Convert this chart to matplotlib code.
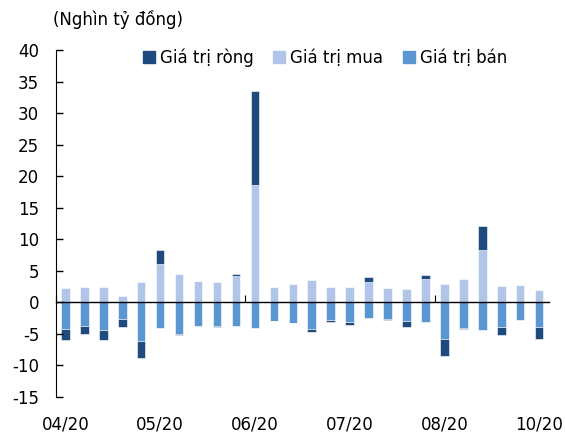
import numpy as np
import matplotlib.pyplot as plt
from matplotlib.patches import Patch

plt.rcParams['font.family'] = ['DejaVu Sans']
plt.rcParams['axes.unicode_minus'] = False

# weekly values, nghin ty dong
buy = [2.33, 2.43, 2.49, 1.06, 3.28, 6.14, 4.55, 3.33, 3.23, 4.13, 18.68, 2.43, 2.96,
       3.54, 2.38, 2.49, 3.23, 2.22, 2.06, 3.65, 2.91, 3.76, 8.25, 2.65, 2.70, 1.96]
sell = [-4.29, -3.81, -4.34, -2.59, -6.19, -4.13, -5.03, -3.70, -3.76, -3.76, -4.02, -2.91, -3.28,
        -4.29, -2.86, -3.17, -2.54, -2.65, -3.02, -3.07, -5.87, -4.07, -4.39, -3.92, -2.75, -3.92]
net = [-1.75, -1.27, -1.64, -1.32, -2.70, 2.17, -0.10, 0.0, -0.20, 0.42, 14.76, -0.10, -0.05,
       -0.48, -0.32, -0.48, 0.74, -0.10, -0.90, 0.63, -2.70, -0.10, 3.86, -1.27, 0.0, -1.90]
tick_labels = ['04/20', '05/20', '06/20', '07/20', '08/20', '10/20']

c_net = '#1F4A7E'
c_buy = '#B0C5E7'
c_sell = '#5A97D2'

buy = np.array(buy)
sell = np.array(sell)
net = np.array(net)
x = np.arange(len(buy))
w = 0.45

fig = plt.figure(figsize=(5.65, 4.32), dpi=100)
ax = fig.add_axes([0.099, 0.081, 0.872, 0.803])

ax.bar(x, buy, w, color=c_buy, edgecolor='white', linewidth=0.4)
ax.bar(x, sell, w, color=c_sell, edgecolor='white', linewidth=0.4)
net_base = np.where(net >= 0, buy, sell)
ax.bar(x, net, w, bottom=net_base, color=c_net, edgecolor='white', linewidth=0.4)

ax.set_xlim(-0.5, 25.5)
ax.set_ylim(-15, 40)
ax.set_yticks(np.arange(-15, 41, 5))
ax.tick_params(axis='y', direction='in', length=5, labelsize=12, pad=12, width=1)

ax.spines['top'].set_visible(False)
ax.spines['right'].set_visible(False)
ax.spines['bottom'].set_position(('data', 0))
ax.spines['bottom'].set_linewidth(1)
ax.set_xticks([-0.5, 9.5, 19.5])
ax.set_xticklabels([])
ax.tick_params(axis='x', direction='in', length=5, width=0.8)

sec = ax.secondary_xaxis(0.0)
sec.set_xticks(np.arange(0, 26, 5))
sec.set_xticklabels(tick_labels)
sec.tick_params(length=0, labelsize=12, pad=13)
sec.spines['bottom'].set_visible(False)

fig.text(0.094, 0.954, '(Nghìn tỷ đồng)', fontsize=12, va='center')

handles = [Patch(color=c_net), Patch(color=c_buy), Patch(color=c_sell)]
fig.legend(handles, ['Giá trị ròng', 'Giá trị mua', 'Giá trị bán'], ncol=3,
           loc='center', bbox_to_anchor=(0.575, 0.866), frameon=False, fontsize=12,
           handlelength=0.7, handleheight=0.7, handletextpad=0.3, columnspacing=1.2)

fig.savefig('out.png', dpi=100)
